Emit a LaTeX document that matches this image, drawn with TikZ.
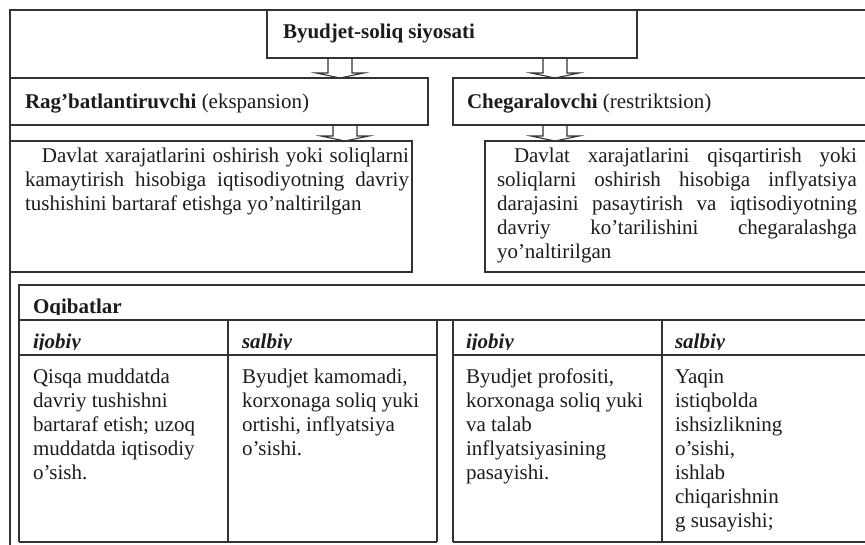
\documentclass[tikz,border=0pt]{standalone}
\usepackage{fontspec}
\setmainfont{Liberation Serif}
\usetikzlibrary{calc}

\definecolor{inkline}{HTML}{333333}
\definecolor{inktext}{HTML}{1E1B1C}

\tikzset{
  frame/.style={draw=inkline, line width=1.1pt},
  box/.style={frame, anchor=north west, inner sep=0pt, outer sep=0pt},
  lbl/.style={text=inktext, inner sep=0pt, outer sep=0pt, font=\fontsize{21}{24}\selectfont},
  head/.style={lbl, anchor=base west, font=\fontsize{21}{24}\selectfont\bfseries\itshape},
  cell/.style={lbl, anchor=north west, align=left},
  para/.style={lbl, anchor=north west, align=justify,
    execute at begin node={\hyphenpenalty=10000\exhyphenpenalty=10000\tolerance=10000}},
}

% hollow block arrow: #1 = start on the upper box, #2 = tip on the lower box
\newcommand{\hollowarrow}[2]{%
  \draw[frame] ($(#1)+(-12,0)$) -- ($(#2)+(-12,-5)$) -- ($(#2)+(-24,-5)$) -- (#2)
    -- ($(#2)+(24,-5)$) -- ($(#2)+(12,-5)$) -- ($(#1)+(12,0)$);}

\begin{document}
\begin{tikzpicture}[x=1pt, y=-1pt]

    \useasboundingbox (0,0) rectangle (865,544);
    \clip (0,0) rectangle (865,544);

    % outer frame
    \draw[frame] (10,10) rectangle (880,560);

    % boxes
    \node[box, minimum width=370, minimum height=48] (policy) at (267,10) {};
    \node[box, minimum width=418, minimum height=47] (expan) at (10,78) {};
    \node[box, minimum width=430, minimum height=47] (restr) at (453,78) {};
    \node[box, minimum width=402, minimum height=131] (expandesc) at (10,141) {};
    \node[box, minimum width=400, minimum height=131] (restrdesc) at (485,141) {};

    \node[lbl, anchor=base west] (policytxt) at (283,38) {\textbf{Byudjet-soliq siyosati}};
    \node[lbl, anchor=base west] (expantxt) at (25,108) {\textbf{Rag’batlantiruvchi} (ekspansion)};
    \node[lbl, anchor=base west] (restrtxt) at (467,108) {\textbf{Chegaralovchi} (restriktsion)};

    \node[para, text width=384] (expandesctxt) at (25,146) {\strut\hspace*{17pt}Davlat xarajatlarini oshirish yoki soliqlarni\linebreak
      kamaytirish hisobiga iqtisodiyotning davriy\linebreak
      tushishini bartaraf etishga yo’naltirilgan};
    \node[para, text width=360] (restrdesctxt) at (497,146) {\strut\hspace*{17pt}Davlat xarajatlarini qisqartirish yoki\linebreak
      soliqlarni oshirish hisobiga inflyatsiya\linebreak
      darajasini pasaytirish va iqtisodiyotning\linebreak
      davriy ko’tarilishini chegaralashga\linebreak
      yo’naltirilgan};

    % arrows
    \coordinate (colA) at (340,0);
    \coordinate (colB) at (555,0);
    \coordinate (colC) at (345,0);
    \hollowarrow{policy.south -| colA}{expan.north -| colA}
    \hollowarrow{policy.south -| colB}{restr.north -| colB}
    \hollowarrow{expan.south -| colC}{expandesc.north -| colC}
    \hollowarrow{restr.south -| colB}{restrdesc.north -| colB}

    % consequences table
    \draw[frame] (19,542) -- (19,285) -- (880,285);
    \draw[frame] (19,320) -- (880,320);
    \draw[frame] (19,355) -- (437,355);
    \draw[frame] (453,355) -- (880,355);
    \draw[frame] (19,542) -- (437,542);
    \draw[frame] (453,542) -- (880,542);
    \foreach \x in {228,437,453,662}
        \draw[frame] (\x,320) -- (\x,542);

    \begin{scope}
        \clip (19,285) rectangle (880,314.5);
        \node[head, font=\fontsize{21}{24}\selectfont\bfseries] (conseq) at (33,313) {Oqibatlar};
    \end{scope}
    \begin{scope}
        \clip (19,320) rectangle (880,349.5);
        \node[head] (posL) at (33,348) {ijobiy};
        \node[head] (negL) at (242,348) {salbiy};
        \node[head] (posR) at (466,348) {ijobiy};
        \node[head] (negR) at (675,348) {salbiy};
    \end{scope}

    \node[cell] (posLtxt) at (33,367) {\strut Qisqa muddatda\\ davriy tushishni\\ bartaraf etish; uzoq\\ muddatda iqtisodiy\\ o’sish.};
    \node[cell] (negLtxt) at (242,367) {\strut Byudjet kamomadi,\\ korxonaga soliq yuki\\ ortishi, inflyatsiya\\ o’sishi.};
    \node[cell] (posRtxt) at (466,367) {\strut Byudjet profositi,\\ korxonaga soliq yuki\\ va talab\\ inflyatsiyasining\\ pasayishi.};
    \node[cell] (negRtxt) at (675,367) {\strut Yaqin\\ istiqbolda\\ ishsizlikning\\ o’sishi,\\ ishlab\\ chiqarishnin\\ g susayishi;};

\end{tikzpicture}
\end{document}
